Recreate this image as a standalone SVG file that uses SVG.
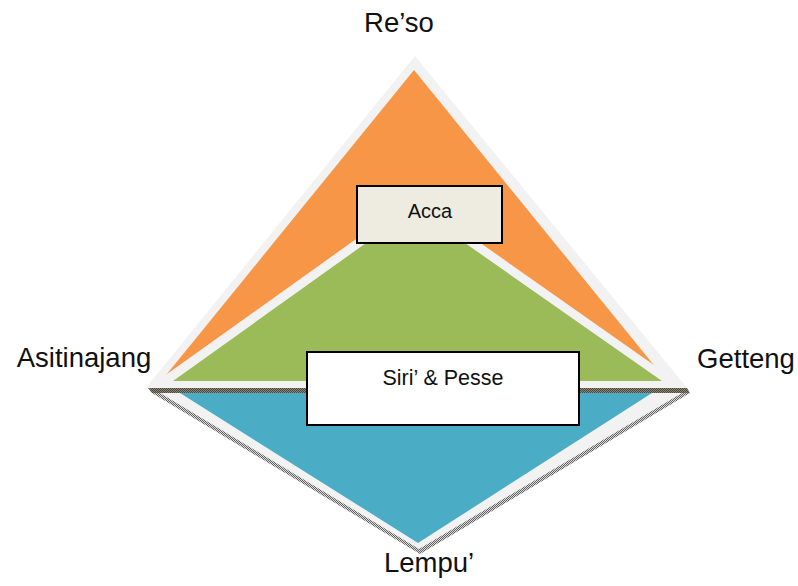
<svg xmlns="http://www.w3.org/2000/svg" width="798" height="586" viewBox="0 0 798 586">
<defs>
<pattern id="hatch" width="2" height="2" patternUnits="userSpaceOnUse"><rect width="2" height="2" fill="#dcdcdc"/><rect width="1" height="1" fill="#606060"/><rect x="1" y="1" width="1" height="1" fill="#606060"/></pattern>
<pattern id="band" width="2" height="2" patternUnits="userSpaceOnUse"><rect width="2" height="2" fill="#8a8272"/><rect width="1" height="1" fill="#4e4a40"/><rect x="1" y="1" width="1" height="1" fill="#4e4a40"/></pattern>
<style>
.lbl{font-family:"Liberation Sans",Arial,sans-serif;font-size:27.5px;fill:#111;text-anchor:middle}
.box{font-family:"Liberation Sans",Arial,sans-serif;font-size:20px;fill:#111;text-anchor:middle}
.rim{fill:#f2f2f2}
.frame{stroke:#000;stroke-width:2}
</style>
</defs>
<rect width="798" height="586" fill="#fff"/>
<g id="reso">
<polygon class="rim" points="415,56 145,389 688,389"/>
<polygon fill="#f79646" points="414,70 158,385 670,385"/>
</g>
<g id="acca-layer">
<polygon class="rim" points="415,197 146,389 688,389"/>
<polygon fill="#9bbb59" points="415,208 173,381 662,381"/>
</g>
<g id="lempu">
<polygon fill="url(#band)" points="148,388 687,388 690,393 152,393"/>
<polygon fill="url(#hatch)" points="152,393 690,393 420,554"/>
<polygon class="rim" points="160,393 682,393 419,549"/>
<polygon fill="#4bacc6" points="180,393 652,393 418,543"/>
</g>
<g id="acca">
<rect class="frame" x="357" y="186" width="145" height="57" fill="#eeece1"/>
<text class="box" x="430" y="218">Acca</text>
</g>
<g id="siri-pesse">
<rect class="frame" x="307" y="352" width="272" height="73" fill="#fff"/>
<text class="box" x="443" y="385" style="font-size:21.5px">Siri’ &amp; Pesse</text>
</g>
<g id="labels">
<text class="lbl" x="399" y="32">Re’so</text>
<text class="lbl" x="84" y="367">Asitinajang</text>
<text class="lbl" x="746" y="368">Getteng</text>
<text class="lbl" x="429" y="572">Lempu’</text>
</g>
</svg>
